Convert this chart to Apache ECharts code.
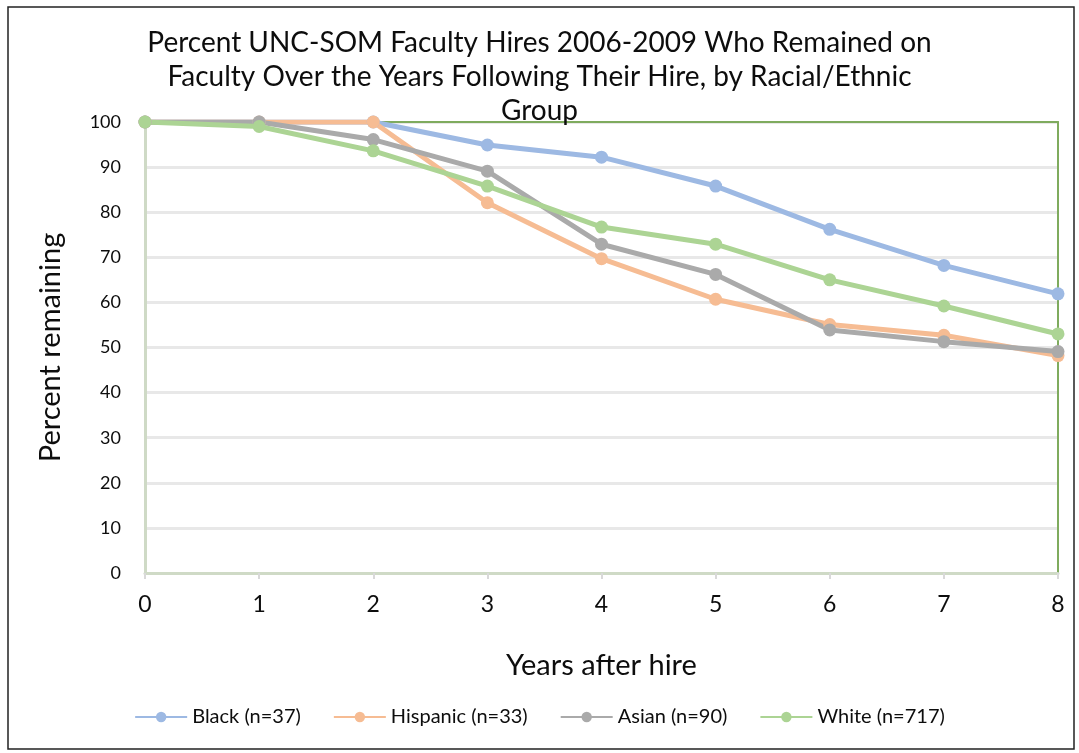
<!DOCTYPE html>
<html>
<head>
<meta charset="utf-8">
<script src="https://cdn.jsdelivr.net/npm/echarts@6/dist/echarts.min.js"></script>
<style>
html, body { margin: 0; padding: 0; background: #fff; }
#chart { width: 1079px; height: 753px; }
</style>
</head>
<body>
<div id="chart"></div>
<script>
var years = [0, 1, 2, 3, 4, 5, 6, 7, 8];
var black = [100, 100, 100, 94.9, 92.2, 85.8, 76.2, 68.2, 61.9];
var hispanic = [100, 100, 100, 82.1, 69.7, 60.7, 55.1, 52.7, 48.2];
var asian = [100, 100, 96.1, 89.1, 72.9, 66.2, 53.9, 51.3, 49.1];
var white = [100, 99, 93.6, 85.8, 76.7, 72.9, 65.0, 59.2, 53.0];

var names = ['Black (n=37)', 'Hispanic (n=33)', 'Asian (n=90)', 'White (n=717)'];
var colors = ['#9db9e3', '#f6bc93', '#aaaaaa', '#acd494'];

function pairs(vals) {
    return years.map(function (y, i) { return [y, vals[i]]; });
}

var dom = document.getElementById('chart');
var myChart = echarts.init(dom);
var fontFam = 'Lato, "Open Sans", sans-serif';
var txt = '#0d0d0d';

function makeSeries(name, vals, color) {
    return {
        name: name,
        type: 'line',
        data: pairs(vals),
        symbol: 'circle',
        symbolSize: 13,
        z: 5,
        lineStyle: { width: 5, color: color },
        itemStyle: { color: color },
        emphasis: { disabled: true }
    };
}

var option = {
    animation: false,
    color: colors,
    title: {
        text: 'Percent UNC-SOM Faculty Hires 2006-2009 Who Remained on\nFaculty Over the Years Following Their Hire, by Racial/Ethnic\nGroup',
        left: 'center',
        top: 21,
        textStyle: {
            fontFamily: fontFam,
            fontSize: 28,
            fontWeight: 'normal',
            color: txt,
            lineHeight: 34
        }
    },
    legend: {
        bottom: 21,
        left: 'center',
        itemWidth: 52,
        itemHeight: 13,
        itemGap: 32,
        textStyle: { fontFamily: fontFam, fontSize: 20, color: txt },
        data: names
    },
    grid: {
        left: 145,
        right: 21,
        top: 122,
        bottom: 180
    },
    xAxis: [
        {
            type: 'value',
            min: 0,
            max: 8,
            interval: 1,
            name: 'Years after hire',
            nameLocation: 'middle',
            nameGap: 78,
            nameTextStyle: { fontFamily: fontFam, fontSize: 29, color: txt },
            axisLine: { show: true, lineStyle: { color: '#cfdac6', width: 3 } },
            axisTick: { show: true, length: 6, lineStyle: { color: '#d9d9d9', width: 2 } },
            splitLine: { show: false },
            axisLabel: { fontFamily: fontFam, fontSize: 23, color: txt, margin: 20 }
        },
        {
            type: 'value',
            position: 'top',
            min: 0,
            max: 8,
            axisLine: { show: true, onZero: false, lineStyle: { color: '#7fab5e', width: 2 } },
            axisTick: { show: false },
            axisLabel: { show: false },
            splitLine: { show: false }
        }
    ],
    yAxis: [
        {
            type: 'value',
            min: 0,
            max: 100,
            interval: 10,
            name: 'Percent remaining',
            nameLocation: 'middle',
            nameGap: 80,
            nameTextStyle: { fontFamily: fontFam, fontSize: 29, color: txt },
            axisLine: { show: true, lineStyle: { color: '#cfdac6', width: 3 } },
            axisTick: { show: false },
            splitLine: { show: true, lineStyle: { color: '#e8e8e8', width: 3 } },
            axisLabel: { fontFamily: fontFam, fontSize: 18, color: txt, margin: 24 }
        },
        {
            type: 'value',
            position: 'right',
            min: 0,
            max: 100,
            axisLine: { show: true, onZero: false, lineStyle: { color: '#7fab5e', width: 2 } },
            axisTick: { show: false },
            axisLabel: { show: false },
            splitLine: { show: false }
        }
    ],
    graphic: [
        {
            type: 'rect',
            shape: { x: 8, y: 7, width: 1066, height: 742 },
            style: { fill: 'none', stroke: '#222', lineWidth: 1.5 },
            silent: true
        }
    ],
    series: [
        makeSeries(names[0], black, colors[0]),
        makeSeries(names[1], hispanic, colors[1]),
        makeSeries(names[2], asian, colors[2]),
        makeSeries(names[3], white, colors[3])
    ]
};

myChart.setOption(option);
</script>
</body>
</html>
